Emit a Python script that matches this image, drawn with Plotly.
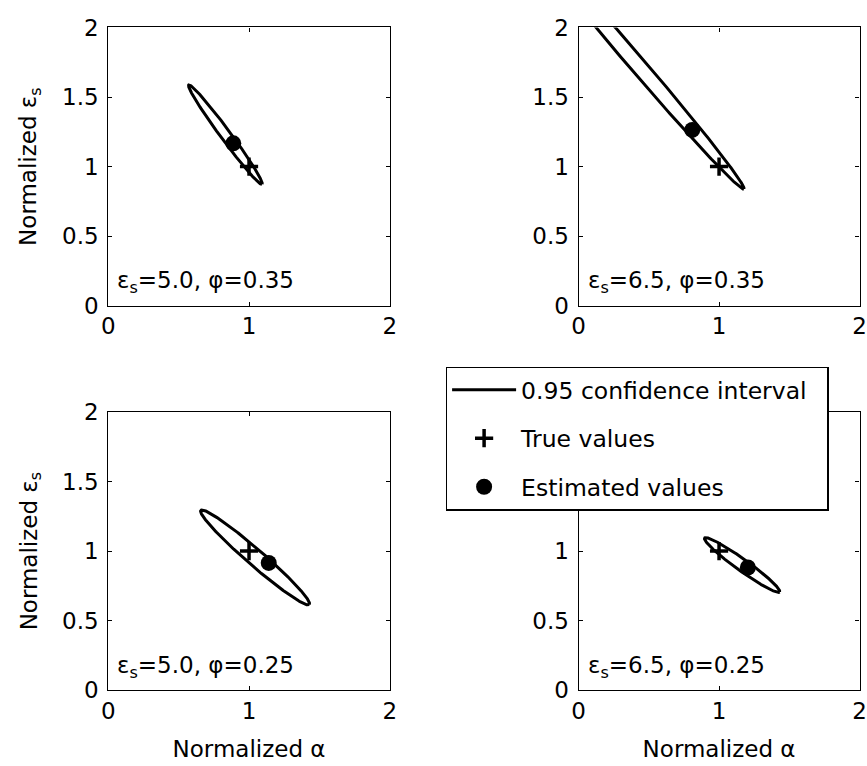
import numpy as np
import plotly.graph_objects as go

# ---- data ----
panel_labels = ["ε<sub>s</sub>=5.0, φ=0.35", "ε<sub>s</sub>=6.5, φ=0.35",
                "ε<sub>s</sub>=5.0, φ=0.25", "ε<sub>s</sub>=6.5, φ=0.25"]
true_alpha = [1.0, 1.0, 1.0, 1.0]
true_eps = [1.0, 1.0, 1.0, 1.0]
est_alpha = [0.888, 0.809, 1.14, 1.205]
est_eps = [1.167, 1.264, 0.915, 0.882]
# 0.95 confidence ellipses: centre, semi-axes, orientation
ci_center_alpha = [0.832, 0.404, 1.043, 1.164]
ci_center_eps = [1.230, 1.750, 0.954, 0.900]
ci_semi_major = [0.442, 1.195, 0.513, 0.330]
ci_semi_minor = [0.036, 0.055, 0.058, 0.042]
ci_angle_deg = [-53.9, -49.7, -41.3, -36.0]
x_ticks = [0, 1, 2]
y_ticks = [0, 0.5, 1, 1.5, 2]

W, H = 867, 766
FONT = "DejaVu Sans"
FS = 23

def px_x(p):
    return p / W

def px_y(p):
    return 1 - p / H

# panel pixel boxes (left, right, top, bottom)
boxes = [(103, 389, 15, 303), (581, 866.5, 15, 303),
         (103, 389, 413, 701), (581, 866.5, 413, 701)]

fig = go.Figure()
t = np.linspace(0, 2 * np.pi, 400)
for i in range(4):
    xa = "x" if i == 0 else f"x{i+1}"
    ya = "y" if i == 0 else f"y{i+1}"
    th = np.deg2rad(ci_angle_deg[i])
    a, b = ci_semi_major[i], ci_semi_minor[i]
    ex = ci_center_alpha[i] + a * np.cos(t) * np.cos(th) - b * np.sin(t) * np.sin(th)
    ey = ci_center_eps[i] + a * np.cos(t) * np.sin(th) + b * np.sin(t) * np.cos(th)
    fig.add_trace(go.Scatter(x=ex, y=ey, mode="lines", xaxis=xa, yaxis=ya,
                             line=dict(color="black", width=3),
                             name="0.95 confidence interval\u00a0\u00a0", legendgroup="ci",
                             showlegend=(i == 0), hoverinfo="skip"))
    fig.add_trace(go.Scatter(x=[true_alpha[i]], y=[true_eps[i]], mode="markers",
                             xaxis=xa, yaxis=ya,
                             marker=dict(symbol="cross-thin", size=13, color="black",
                                         line=dict(color="black", width=3.5)),
                             name="True values", legendgroup="true",
                             showlegend=(i == 0)))
    fig.add_trace(go.Scatter(x=[est_alpha[i]], y=[est_eps[i]], mode="markers",
                             xaxis=xa, yaxis=ya,
                             marker=dict(symbol="circle", size=16, color="black"),
                             name="Estimated values", legendgroup="est",
                             showlegend=(i == 0)))

layout = dict(
    width=W, height=H,
    margin=dict(l=0, r=0, t=0, b=0),
    paper_bgcolor="white", plot_bgcolor="white",
    font=dict(family=FONT, size=FS, color="black"),
    showlegend=True,
    legend=dict(x=px_x(446), y=px_y(366), xanchor="left", yanchor="top",
                bgcolor="white", bordercolor="black", borderwidth=1.3,
                font=dict(family=FONT, size=23.5, color="black"),
                itemwidth=64, tracegroupgap=15, traceorder="grouped"),
    annotations=[],
)

for i, (l, r, tp, bt) in enumerate(boxes):
    xk = "xaxis" if i == 0 else f"xaxis{i+1}"
    yk = "yaxis" if i == 0 else f"yaxis{i+1}"
    xa = "x" if i == 0 else f"x{i+1}"
    ya = "y" if i == 0 else f"y{i+1}"
    common = dict(showgrid=False, zeroline=False, showline=True, linecolor="black",
                  linewidth=1.2, mirror="ticks", ticks="inside", ticklen=4,
                  tickwidth=1, tickcolor="black",
                  tickfont=dict(family=FONT, size=FS, color="black"),
                  fixedrange=True)
    xdict = dict(common, domain=[px_x(l), px_x(r)], range=[0, 2],
                 tickvals=x_ticks, ticktext=[str(v) for v in x_ticks],
                 anchor=ya, ticklabelstandoff=0)
    ydict = dict(common, domain=[px_y(bt), px_y(tp)], range=[0, 2],
                 tickvals=y_ticks, ticktext=["0", "0.5", "1", "1.5", "2"],
                 anchor=xa, ticklabelstandoff=4)
    if i in (2, 3):
        xdict["title"] = dict(text="Normalized α", font=dict(family=FONT, size=FS),
                              standoff=17)
    if i in (0, 2):
        ydict["title"] = dict(text="Normalized ε<sub>s</sub>",
                              font=dict(family=FONT, size=FS), standoff=18)
    layout[xk] = xdict
    layout[yk] = ydict
    layout["annotations"].append(dict(
        text=panel_labels[i], x=0.05, y=0.045, xref=xa, yref=ya,
        xanchor="left", yanchor="bottom", showarrow=False,
        font=dict(family=FONT, size=FS, color="black")))

fig.update_layout(**layout)
fig.write_html("out.html")
